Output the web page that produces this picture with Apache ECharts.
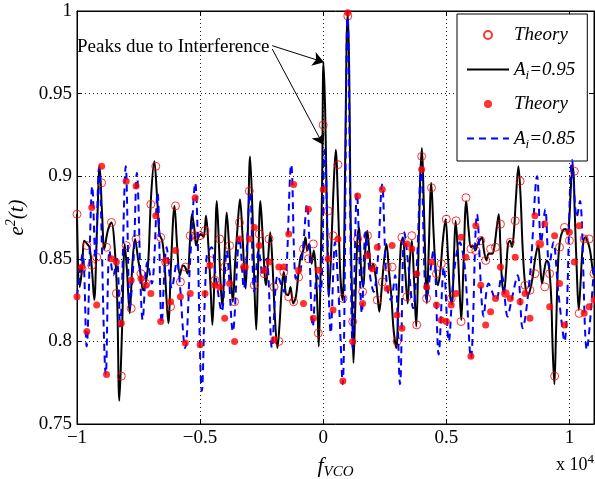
<!DOCTYPE html>
<html><head><meta charset="utf-8">
<script src="https://cdn.jsdelivr.net/npm/echarts@6/dist/echarts.min.js"></script>
<style>html,body{margin:0;padding:0;background:#fff}#c{width:595px;height:479px}</style>
</head><body><div id="c"></div>
<script>
// x in units of 10^4
const blackX = [
-1.000,-0.989,-0.980,-0.970,-0.959,-0.949,-0.939,-0.930,-0.919,-0.908,
-0.898,-0.889,-0.875,-0.860,-0.848,-0.837,-0.828,-0.817,-0.806,-0.797,
-0.786,-0.775,-0.764,-0.753,-0.740,-0.732,-0.721,-0.711,-0.699,-0.686,
-0.675,-0.665,-0.654,-0.645,-0.637,-0.629,-0.618,-0.604,-0.593,-0.582,
-0.570,-0.561,-0.551,-0.541,-0.533,-0.524,-0.516,-0.507,-0.497,-0.486,
-0.476,-0.466,-0.457,-0.450,-0.442,-0.432,-0.423,-0.416,-0.409,-0.401,
-0.392,-0.382,-0.374,-0.367,-0.358,-0.348,-0.338,-0.328,-0.320,-0.315,
-0.306,-0.297,-0.287,-0.280,-0.272,-0.264,-0.255,-0.245,-0.237,-0.232,
-0.225,-0.215,-0.206,-0.197,-0.186,-0.177,-0.168,-0.160,-0.152,-0.142,
-0.133,-0.122,-0.111,-0.102,-0.092,-0.081,-0.072,-0.065,-0.057,-0.047,
-0.038,-0.030,-0.023,-0.018,-0.011,-0.004,0.001,0.008,0.015,0.023,
0.031,0.041,0.051,0.061,0.070,0.079,0.087,0.095,0.100,0.106,
0.111,0.118,0.123,0.130,0.138,0.146,0.154,0.163,0.171,0.179,
0.187,0.195,0.203,0.213,0.221,0.228,0.237,0.246,0.257,0.267,
0.277,0.286,0.297,0.306,0.316,0.324,0.333,0.343,0.351,0.360,
0.369,0.378,0.386,0.394,0.401,0.408,0.415,0.421,0.429,0.439,
0.448,0.457,0.466,0.476,0.486,0.497,0.507,0.516,0.523,0.531,
0.538,0.546,0.554,0.561,0.570,0.581,0.591,0.600,0.608,0.618,
0.627,0.635,0.645,0.653,0.663,0.672,0.686,0.695,0.705,0.713,
0.720,0.726,0.734,0.743,0.751,0.759,0.767,0.775,0.783,0.793,
0.802,0.810,0.820,0.831,0.840,0.851,0.862,0.873,0.881,0.889,
0.898,0.908,0.916,0.926,0.932,0.939,0.946,0.954,0.962,0.973,
0.984,0.993,1.000,1.008,1.015,1.022,1.030,1.038,1.046,1.054,
1.064,1.073,1.084,1.095,1.100];
const blackY = [
0.877,0.833,0.843,0.861,0.859,0.857,0.843,0.825,0.867,0.906,
0.877,0.856,0.867,0.872,0.859,0.827,0.764,0.807,0.859,0.843,
0.817,0.847,0.862,0.851,0.839,0.831,0.835,0.847,0.888,0.909,
0.888,0.865,0.861,0.849,0.827,0.811,0.847,0.882,0.857,0.840,
0.846,0.845,0.841,0.861,0.877,0.869,0.858,0.863,0.865,0.863,
0.876,0.857,0.831,0.810,0.837,0.885,0.857,0.833,0.821,0.851,
0.878,0.857,0.837,0.824,0.847,0.869,0.886,0.865,0.841,0.832,
0.867,0.912,0.877,0.837,0.807,0.847,0.885,0.861,0.839,0.834,
0.847,0.866,0.847,0.817,0.796,0.811,0.833,0.842,0.829,0.828,
0.833,0.823,0.827,0.839,0.851,0.855,0.863,0.855,0.859,0.847,
0.855,0.843,0.819,0.797,0.839,0.900,0.969,0.940,0.879,0.827,
0.849,0.889,0.916,0.879,0.839,0.825,0.879,0.980,0.999,0.960,
0.879,0.819,0.787,0.819,0.859,0.869,0.843,0.833,0.855,0.867,
0.855,0.843,0.847,0.839,0.827,0.818,0.831,0.847,0.859,0.843,
0.827,0.807,0.796,0.827,0.859,0.863,0.843,0.823,0.847,0.861,
0.837,0.809,0.847,0.898,0.917,0.887,0.847,0.823,0.857,0.896,
0.867,0.843,0.834,0.843,0.861,0.874,0.851,0.827,0.823,0.851,
0.873,0.857,0.831,0.813,0.847,0.885,0.867,0.857,0.858,0.855,
0.859,0.861,0.863,0.855,0.849,0.853,0.853,0.857,0.869,0.877,
0.857,0.837,0.829,0.843,0.859,0.861,0.857,0.867,0.887,0.906,
0.887,0.857,0.835,0.828,0.831,0.839,0.851,0.858,0.847,0.835,
0.843,0.849,0.847,0.827,0.796,0.774,0.807,0.847,0.861,0.867,
0.868,0.865,0.875,0.898,0.906,0.877,0.843,0.819,0.837,0.857,
0.863,0.861,0.855,0.843,0.840];

const blueX = [
-1.000,-0.977,-0.961,-0.938,-0.925,-0.911,-0.883,-0.868,-0.852,-0.838,
-0.825,-0.802,-0.785,-0.770,-0.757,-0.733,-0.714,-0.696,-0.673,-0.656,
-0.636,-0.615,-0.595,-0.561,-0.540,-0.520,-0.493,-0.473,-0.453,-0.437,
-0.412,-0.392,-0.367,-0.340,-0.322,-0.297,-0.280,-0.262,-0.245,-0.230,
-0.208,-0.185,-0.160,-0.130,-0.110,-0.090,-0.066,-0.042,-0.025,-0.010,
0.006,0.031,0.048,0.062,0.079,0.099,0.120,0.137,0.157,0.172,
0.190,0.205,0.222,0.239,0.258,0.275,0.292,0.312,0.330,0.350,
0.365,0.380,0.398,0.420,0.448,0.469,0.490,0.510,0.530,0.555,
0.575,0.600,0.625,0.652,0.672,0.702,0.725,0.749,0.765,0.790,
0.810,0.840,0.869,0.885,0.902,0.918,0.935,0.955,0.980,1.011,
1.030,1.043,1.071,1.100];
const blueY = [
0.827,0.853,0.797,0.894,0.850,0.905,0.780,0.855,0.840,0.850,
0.809,0.906,0.821,0.850,0.902,0.813,0.848,0.835,0.890,0.811,
0.857,0.832,0.848,0.796,0.850,0.896,0.770,0.852,0.857,0.840,
0.818,0.855,0.806,0.863,0.832,0.890,0.830,0.855,0.840,0.850,
0.796,0.840,0.830,0.907,0.838,0.845,0.883,0.809,0.840,0.830,
0.916,0.805,0.860,0.830,0.774,1.000,0.795,0.890,0.817,0.866,
0.840,0.830,0.850,0.895,0.835,0.825,0.840,0.774,0.866,0.840,
0.820,0.845,0.906,0.825,0.855,0.792,0.845,0.800,0.840,0.860,
0.845,0.790,0.877,0.815,0.835,0.825,0.840,0.815,0.825,0.840,
0.808,0.840,0.900,0.860,0.880,0.845,0.860,0.830,0.800,0.910,
0.875,0.885,0.795,0.845];

const theoryX = [
-1.00,-0.98,-0.96,-0.94,-0.92,-0.90,-0.88,-0.86,-0.84,-0.82,
-0.80,-0.78,-0.76,-0.74,-0.72,-0.70,-0.68,-0.66,-0.64,-0.62,
-0.60,-0.58,-0.56,-0.54,-0.52,-0.50,-0.48,-0.46,-0.44,-0.42,
-0.40,-0.38,-0.36,-0.34,-0.32,-0.30,-0.28,-0.26,-0.24,-0.22,
-0.20,-0.18,-0.16,-0.14,-0.12,-0.10,-0.08,-0.06,-0.04,-0.02,
0.00,0.02,0.04,0.06,0.08,0.10,0.12,0.14,0.16,0.18,
0.20,0.22,0.24,0.26,0.28,0.30,0.32,0.34,0.36,0.38,
0.40,0.42,0.44,0.46,0.48,0.50,0.52,0.54,0.56,0.58,
0.60,0.62,0.64,0.66,0.68,0.70,0.72,0.74,0.76,0.78,
0.80,0.82,0.84,0.86,0.88,0.90,0.92,0.94,0.96,0.98,
1.00,1.02,1.04,1.06,1.08,1.10];
const theory95 = [
0.877,0.844,0.858,0.846,0.851,0.896,0.857,0.872,0.829,0.779,
0.858,0.820,0.862,0.841,0.835,0.883,0.906,0.863,0.848,0.821,
0.882,0.836,0.845,0.864,0.864,0.864,0.867,0.849,0.837,0.862,
0.845,0.858,0.824,0.872,0.845,0.891,0.834,0.865,0.841,0.862,
0.833,0.800,0.842,0.827,0.824,0.839,0.856,0.850,0.859,0.805,
0.931,0.879,0.864,0.907,0.826,0.997,0.812,0.862,0.830,0.864,
0.845,0.825,0.836,0.845,0.845,0.800,0.863,0.827,0.864,0.810,
0.912,0.826,0.893,0.841,0.847,0.874,0.826,0.873,0.812,0.887,
0.856,0.855,0.861,0.849,0.856,0.857,0.871,0.829,0.860,0.873,
0.897,0.834,0.831,0.841,0.859,0.833,0.841,0.779,0.857,0.869,
0.861,0.903,0.817,0.862,0.862,0.841];
const theory85 = [
0.827,0.845,0.806,0.881,0.822,0.906,0.780,0.850,0.848,0.811,
0.897,0.837,0.894,0.838,0.834,0.829,0.876,0.812,0.849,0.824,
0.855,0.827,0.799,0.829,0.887,0.798,0.829,0.846,0.834,0.833,
0.814,0.835,0.800,0.862,0.845,0.862,0.869,0.858,0.843,0.848,
0.801,0.845,0.845,0.865,0.895,0.843,0.823,0.880,0.814,0.843,
0.892,0.850,0.819,0.862,0.776,0.999,0.800,0.888,0.823,0.852,
0.844,0.857,0.892,0.832,0.858,0.816,0.808,0.859,0.856,0.841,
0.904,0.833,0.848,0.822,0.813,0.812,0.822,0.829,0.863,0.851,
0.791,0.870,0.834,0.810,0.818,0.826,0.845,0.829,0.826,0.851,
0.824,0.829,0.814,0.876,0.859,0.871,0.821,0.864,0.835,0.810,
0.866,0.848,0.870,0.817,0.821,0.825];

const xTickValues = [-1, -0.5, 0, 0.5, 1];
const yTickValues = [0.75, 0.8, 0.85, 0.9, 0.95, 1];
const annotationText = 'Peaks due to Interference';
const arrowStart1 = [-0.207, 0.979], arrowEnd1 = [0.003, 0.969];
const arrowStart2 = [-0.207, 0.977], arrowEnd2 = [0.0, 0.919];

const F = 'Liberation Serif';
const zip = (xs, ys) => xs.slice(0, Math.min(xs.length, ys.length)).map((x, i) => [x, ys[i]]);

const chart = echarts.init(document.getElementById('c'), null, {renderer: 'canvas'});
const axisCommon = {
  type: 'value',
  axisLine: {show: true, onZero: false, lineStyle: {color: '#000', width: 1}},
  axisTick: {show: true, inside: true, length: 5, lineStyle: {color: '#000'}},
};
const option = {
  animation: false,
  backgroundColor: '#fff',
  grid: {left: 77, right: 1, top: 11, bottom: 55, show: true, borderColor: '#000', borderWidth: 1,
    containLabel: false, outerBoundsMode: 'none'},
  xAxis: [
    Object.assign({}, axisCommon, {
      min: -1, max: 1.1, interval: 0.5, position: 'bottom',
      axisLabel: {showMaxLabel: false, margin: 9, lineHeight: 10, color: '#000', fontFamily: F, fontSize: 19,
        formatter: v => xTickValues.indexOf(v) >= 0 ? String(v).replace('-', '\u2212') : ''},
      splitLine: {show: true, lineStyle: {color: '#222', type: [1, 3], width: 1}},
      name: '{f|f}{s|VCO}', nameLocation: 'middle', nameGap: 29,
      nameTextStyle: {rich: {
        f: {fontFamily: F, fontStyle: 'italic', fontSize: 22, color: '#000'},
        s: {fontFamily: F, fontStyle: 'italic', fontSize: 15, color: '#000', padding: [12, 0, 0, 0]}
      }}
    }),
    Object.assign({}, axisCommon, {
      min: -1, max: 1.1, interval: 0.5, position: 'top',
      axisLabel: {show: false}, splitLine: {show: false}
    })
  ],
  yAxis: [
    Object.assign({}, axisCommon, {
      min: 0.75, max: 1, interval: 0.05, position: 'left',
      axisLabel: {margin: 5, lineHeight: 10, color: '#000', fontFamily: F, fontSize: 19,
        formatter: v => String(+v.toFixed(2))},
      splitLine: {show: true, lineStyle: {color: '#222', type: [1, 3], width: 1}},
      name: '{e|e}{s|2}{e|(t)}', nameLocation: 'middle', nameGap: 39, nameRotate: 90,
      nameTextStyle: {rich: {
        e: {fontFamily: F, fontStyle: 'italic', fontSize: 21, color: '#000'},
        s: {fontFamily: F, fontStyle: 'italic', fontSize: 14, color: '#000', padding: [0, 0, 12, 0]}
      }}
    }),
    Object.assign({}, axisCommon, {
      min: 0.75, max: 1, interval: 0.05, position: 'right',
      axisLabel: {show: false}, splitLine: {show: false}
    })
  ],
  legend: {
    orient: 'vertical', left: 457, top: 14,
    padding: [9, 12, 10, 9],
    itemWidth: 42, itemHeight: 8, itemGap: 10,
    backgroundColor: '#fff', borderColor: '#000', borderWidth: 1, borderRadius: 0,
    selectedMode: false,
    data: [
      {name: 'Theory (0.95)'},
      {name: 'A_i=0.95', itemStyle: {opacity: 0}},
      {name: 'Theory (0.85)'},
      {name: 'A_i=0.85', itemStyle: {opacity: 0}}
    ],
    formatter: n => n.indexOf('Theory') === 0 ? '{t|Theory}' : '{t|A}{s|i}{t|' + n.slice(3) + '}',
    textStyle: {color: '#000', fontFamily: F, fontStyle: 'italic', fontSize: 19, lineHeight: 24,
      rich: {
        t: {fontFamily: F, fontStyle: 'italic', fontSize: 19, lineHeight: 24, color: '#000'},
        s: {fontFamily: F, fontStyle: 'italic', fontSize: 13, lineHeight: 24, color: '#000', padding: [12, 0, 0, 0]}
      }}
  },
  graphic: [
    {type: 'text', left: 77, top: 38, silent: true,
      style: {text: annotationText, fontFamily: F, fontSize: 19, fill: '#000'}},
    {type: 'text', right: 1, top: 453, silent: true,
      style: {text: 'x 10{s|4}', fontFamily: F, fontSize: 18, fill: '#000',
        rich: {s: {fontFamily: F, fontSize: 13, fill: '#000', padding: [0, 0, 12, 0]}}}}
  ],
  series: [
    {
      name: 'A_i=0.95', type: 'line', data: zip(blackX, blackY),
      symbol: 'none', smooth: 0.35, z: 2,
      lineStyle: {color: '#000', width: 2}, itemStyle: {color: '#000'},
      emphasis: {disabled: true},
      markLine: {
        silent: true, symbol: ['none', 'arrow'], symbolSize: 11,
        lineStyle: {color: '#000', width: 1, type: 'solid'},
        label: {show: false}, emphasis: {disabled: true},
        data: [
          [{coord: arrowStart1}, {coord: arrowEnd1}],
          [{coord: arrowStart2}, {coord: arrowEnd2}]
        ]
      }
    },
    {
      name: 'Theory (0.95)', type: 'scatter', data: zip(theoryX, theory95),
      symbol: 'circle', symbolSize: 8, z: 3,
      itemStyle: {color: 'rgba(255,255,255,0)', borderColor: '#ff0000', borderWidth: 1},
      emphasis: {disabled: true}
    },
    {
      name: 'A_i=0.85', type: 'line', data: zip(blueX, blueY),
      symbol: 'none', smooth: 0.35, z: 4,
      lineStyle: {color: '#0000ff', width: 2, type: [7, 5]}, itemStyle: {color: '#0000ff'},
      emphasis: {disabled: true}
    },
    {
      name: 'Theory (0.85)', type: 'scatter', data: zip(theoryX, theory85),
      symbol: 'circle', symbolSize: 7, z: 5,
      itemStyle: {color: '#ff0000'},
      emphasis: {disabled: true}
    }
  ]
};
chart.setOption(option);
</script></body></html>
